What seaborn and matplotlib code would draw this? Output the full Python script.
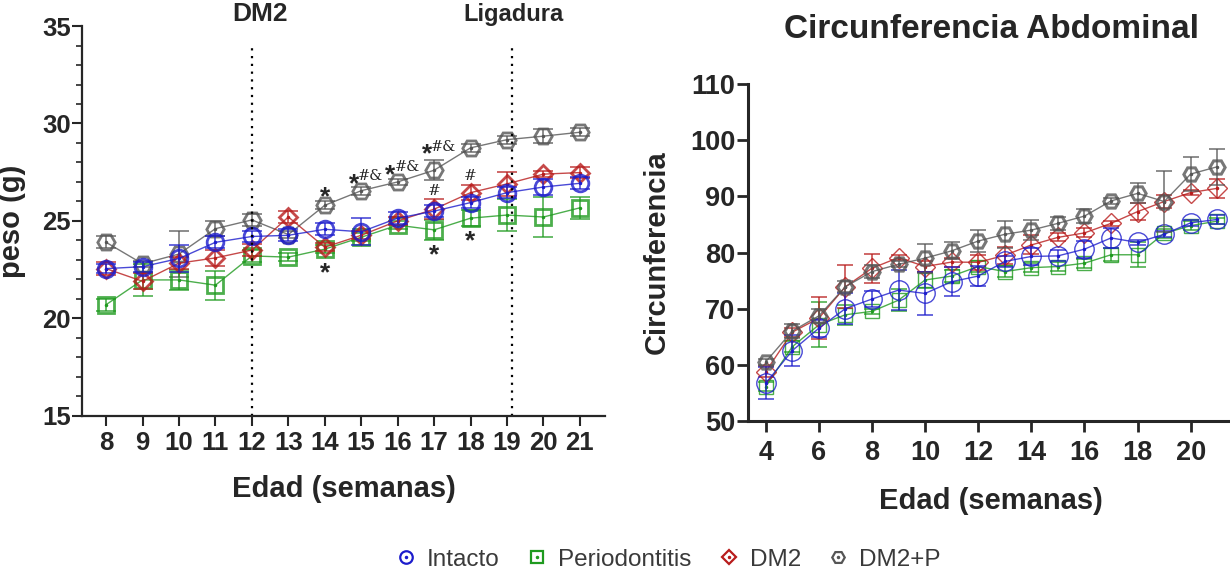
import numpy as np
import matplotlib
matplotlib.use('Agg')
import matplotlib.pyplot as plt
import seaborn as sns
from matplotlib.lines import Line2D

# peso corporal (semanas 8-21)
semanas_peso = [8, 9, 10, 11, 12, 13, 14, 15, 16, 17, 18, 19, 20, 21]
peso_intacto = [22.55, 22.65, 23.07, 23.9, 24.2, 24.26, 24.57, 24.44, 25.14, 25.5, 25.94, 26.45, 26.74, 26.93]
err_peso_intacto = [0.25, 0.25, 0.7, 0.3, 0.3, 0.3, 0.3, 0.7, 0.3, 0.3, 0.3, 0.3, 0.4, 0.3]
peso_perio = [20.7, 21.97, 21.97, 21.7, 23.2, 23.14, 23.55, 24.16, 24.78, 24.54, 25.14, 25.3, 25.2, 25.67]
err_peso_perio = [0.3, 0.8, 0.5, 0.75, 0.3, 0.2, 0.2, 0.2, 0.2, 0.5, 0.4, 0.8, 1.05, 0.55]
peso_dm2 = [22.55, 21.9, 22.83, 23.1, 23.5, 25.2, 23.65, 24.26, 25.0, 25.6, 26.45, 26.9, 27.4, 27.48]
err_peso_dm2 = [0.35, 0.4, 0.3, 0.4, 0.3, 0.3, 0.2, 0.2, 0.2, 0.5, 0.4, 0.6, 0.15, 0.3]
peso_dm2p = [23.9, 22.8, 23.3, 24.6, 25.05, 24.3, 25.8, 26.55, 27.0, 27.6, 28.75, 29.17, 29.35, 29.55]
err_peso_dm2p = [0.3, 0.15, 1.2, 0.4, 0.3, 0.2, 0.2, 0.2, 0.15, 0.5, 0.2, 0.2, 0.35, 0.2]

# significancia: (semana, y, texto)
marcas = [(14, 26.6, '*'), (15, 27.3, '*#&'), (16, 27.75, '*#&'), (17, 28.8, '*#&'),
          (17, 26.55, '#'), (18, 27.3, '#'),
          (14, 22.7, '*'), (17, 23.65, '*'), (18, 24.35, '*')]

# circunferencia abdominal (semanas 4-21)
semanas_circ = list(range(4, 22))
circ_intacto = [56.7, 62.5, 66.5, 70.0, 71.7, 73.3, 72.7, 74.8, 75.8, 78.4, 79.3, 79.4, 80.6, 82.6, 81.8, 83.25, 85.3, 85.9]
err_circ_intacto = [2.8, 2.7, 1.5, 2.8, 1.5, 3.5, 3.8, 2.6, 1.8, 1.0, 1.5, 1.0, 1.5, 1.8, 0.5, 0.5, 0.5, 0.8]
circ_perio = [56.1, 63.2, 67.1, 68.9, 69.5, 71.5, 75.1, 75.8, 77.5, 76.6, 77.3, 77.5, 78.1, 79.6, 79.6, 83.4, 84.8, 85.6]
err_circ_perio = [0.8, 1.0, 4.0, 1.8, 0.5, 2.0, 1.5, 1.0, 1.0, 1.0, 0.8, 0.8, 0.8, 1.2, 2.2, 0.8, 0.8, 0.5]
circ_dm2 = [58.75, 65.8, 68.3, 73.9, 77.2, 79.1, 77.5, 78.3, 78.25, 79.5, 81.35, 82.7, 83.5, 85.2, 87.3, 89.1, 90.7, 91.45]
err_circ_dm2 = [1.0, 0.8, 3.8, 3.8, 2.6, 0.5, 1.0, 0.8, 1.3, 1.5, 1.7, 0.7, 0.8, 0.5, 1.5, 1.2, 0.5, 1.7]
circ_dm2p = [60.5, 66.0, 68.7, 73.9, 76.6, 77.9, 79.0, 80.3, 82.05, 83.25, 84.0, 85.2, 86.5, 89.2, 90.55, 89.1, 94.0, 95.3]
err_circ_dm2p = [0.5, 1.2, 1.3, 1.0, 1.2, 0.5, 2.6, 1.5, 1.9, 2.4, 1.8, 1.2, 1.3, 0.5, 1.8, 5.4, 3.0, 3.2]

grupos = ['Intacto', 'Periodontitis', 'DM2', 'DM2+P']
colores = {'Intacto': '#1c1ccc', 'Periodontitis': '#1f9a1f', 'DM2': '#b81c1c', 'DM2+P': '#555555'}
marcadores = {'Intacto': 'o', 'Periodontitis': 's', 'DM2': 'D', 'DM2+P': 'H'}

sns.set_style('ticks')
plt.rcParams['font.family'] = ['Liberation Sans', 'DejaVu Sans']

fig = plt.figure(figsize=(12.3, 5.73), dpi=100)
ax1 = fig.add_axes([0.0667, 0.2745, 0.4252, 0.680])
ax2 = fig.add_axes([0.6081, 0.2658, 0.3945, 0.587])


def serie(ax, x, y, err, g, ms, mew, cap):
    c = colores[g]
    ax.errorbar(x, y, yerr=err, fmt='none', ecolor=c, elinewidth=1.1,
                capsize=cap, capthick=1.1, alpha=0.85)
    sns.lineplot(x=x, y=y, ax=ax, color=c, linewidth=1.0, alpha=0.8,
                 marker=marcadores[g], markersize=ms, markerfacecolor='none',
                 markeredgecolor=c, markeredgewidth=mew)
    ax.plot(x, y, '.', color=c, ms=3)


# panel izquierdo: peso
datos_peso = {'DM2+P': (peso_dm2p, err_peso_dm2p), 'Periodontitis': (peso_perio, err_peso_perio),
              'DM2': (peso_dm2, err_peso_dm2), 'Intacto': (peso_intacto, err_peso_intacto)}
tam_peso = {'Intacto': 12, 'Periodontitis': 11.5, 'DM2': 9, 'DM2+P': 12.5}
for g, (y, e) in datos_peso.items():
    serie(ax1, semanas_peso, y, e, g, tam_peso[g], 2.0, 7)

for xv in [12, 19.15]:
    ax1.plot([xv, xv], [15, 33.9], color='black', linestyle=(0, (1, 2.5)), lw=1.6)
ax1.text(12.22, 35.6, 'DM2', ha='center', va='center', fontsize=19, fontweight='bold',
         clip_on=False)
ax1.text(19.19, 35.6, 'Ligadura', ha='center', va='center', fontsize=17, fontweight='bold',
         clip_on=False)

for xv, yv, t in marcas:
    if t == '*':
        ax1.text(xv, yv - 0.4, '*', ha='center', va='center', fontsize=19, fontweight='bold')
    elif t == '#':
        ax1.text(xv, yv, '#', ha='center', va='center', fontsize=11, family='DejaVu Serif')
    else:
        ax1.text(xv - 0.2, yv - 0.4, '*', ha='center', va='center', fontsize=19, fontweight='bold')
        ax1.text(xv - 0.08, yv, '#&', ha='left', va='center', fontsize=10.5, family='DejaVu Serif')

ax1.set_xlim(7.34, 21.69)
ax1.set_ylim(15, 35)
ax1.set_xticks(semanas_peso)
ax1.set_yticks([15, 20, 25, 30, 35])
ax1.set_yticks(np.arange(15, 36, 1), minor=True)
ax1.set_xlabel('Edad (semanas)', fontsize=21, fontweight='bold')
ax1.set_ylabel('peso (g)', fontsize=21, fontweight='bold')
ax1.xaxis.set_label_coords(0.5, -0.152)
ax1.yaxis.set_label_coords(-0.107, 0.5)
ax1.tick_params(axis='both', which='major', labelsize=18.5, length=7, width=1.5)
ax1.tick_params(axis='y', which='minor', length=4, width=1.2)
ax1.tick_params(axis='y', pad=1)
ax1.tick_params(axis='x', pad=4)
for lab in ax1.get_xticklabels() + ax1.get_yticklabels():
    lab.set_fontweight('bold')
for s in ['left', 'bottom']:
    ax1.spines[s].set_linewidth(1.6)
sns.despine(ax=ax1)

# panel derecho: circunferencia
datos_circ = {'Periodontitis': (circ_perio, err_circ_perio), 'DM2': (circ_dm2, err_circ_dm2),
              'Intacto': (circ_intacto, err_circ_intacto), 'DM2+P': (circ_dm2p, err_circ_dm2p)}
tam_circ = {'Intacto': 14, 'Periodontitis': 10, 'DM2': 10, 'DM2+P': 11}
mew_circ = {'Intacto': 1.0, 'Periodontitis': 1.0, 'DM2': 1.0, 'DM2+P': 2.2}
for g, (y, e) in datos_circ.items():
    serie(ax2, semanas_circ, y, e, g, tam_circ[g], mew_circ[g], 6)

ax2.set_xlim(3.33, 21.6)
ax2.set_ylim(50, 110)
ax2.set_xticks(range(4, 21, 2))
ax2.set_yticks(range(50, 111, 10))
ax2.set_xlabel('Edad (semanas)', fontsize=21, fontweight='bold')
ax2.set_ylabel('Circunferencia', fontsize=21, fontweight='bold')
ax2.xaxis.set_label_coords(0.5, -0.197)
ax2.yaxis.set_label_coords(-0.16, 0.5)
ax2.tick_params(axis='both', labelsize=19.5, length=8, width=2)
ax2.tick_params(axis='y', pad=1)
ax2.tick_params(axis='x', pad=6)
for lab in ax2.get_xticklabels() + ax2.get_yticklabels():
    lab.set_fontweight('bold')
for s in ['left', 'bottom']:
    ax2.spines[s].set_linewidth(2.2)
sns.despine(ax=ax2)

fig.text(0.806, 0.948, 'Circunferencia Abdominal', ha='center', va='center',
         fontsize=24, fontweight='bold')

# leyenda comun
handles = []
for g in grupos:
    c = colores[g]
    m1 = Line2D([], [], linestyle='none', marker=marcadores[g], ms=9 if g != 'DM2' else 7,
                mfc='none', mec=c, mew=1.6)
    m2 = Line2D([], [], linestyle='none', marker='.', ms=3, color=c)
    handles.append((m1, m2))
fig.legend(handles, grupos, loc='center', bbox_to_anchor=(0.543, 0.023), ncol=4,
           frameon=False, fontsize=17.5, handlelength=0.9, handletextpad=0.4,
           columnspacing=1.1, labelcolor='#3a3a3a')

fig.savefig('out.png', dpi=100)
